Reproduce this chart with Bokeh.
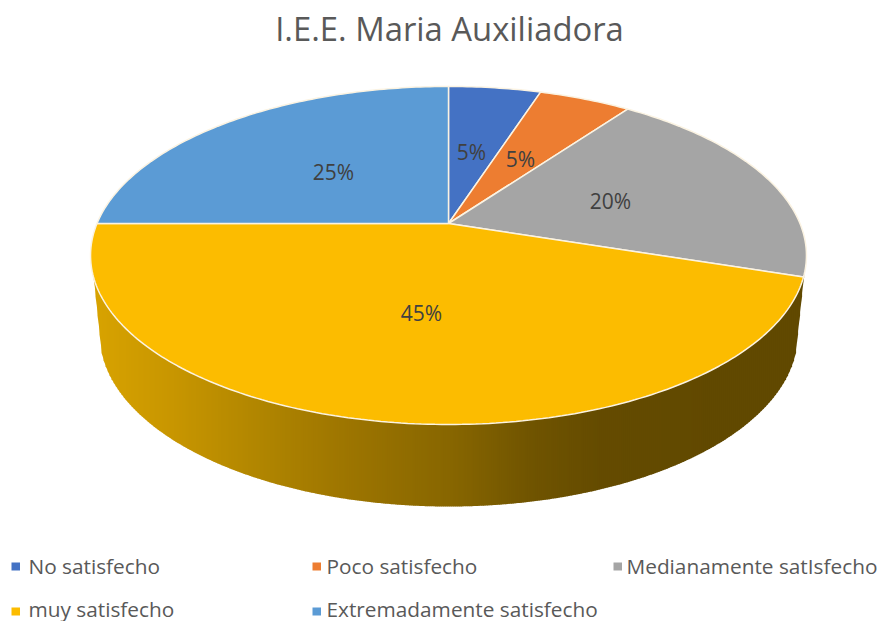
import math
from bokeh.plotting import figure
from bokeh.models import Range1d
from bokeh.core.properties import value
from bokeh.embed import file_html
from bokeh.resources import INLINE

title_text = "I.E.E. Maria Auxiliadora"
categories = ["No satisfecho", "Poco satisfecho", "Medianamente satIsfecho", "muy satisfecho", "Extremadamente satisfecho"]
shares = [5, 5, 20, 45, 25]
colors = ["#4472C4", "#ED7D31", "#A5A5A5", "#FCBC00", "#5B9BD5"]
label_pos = [(471, 151), (520, 158), (610, 200), (421, 312), (333, 171)]
legend_pos = [(11, 566), (312, 566), (613, 566), (11, 611), (312, 611)]
legend_text_x = [28, 326, 626, 28, 326]
legend_text_y = [565, 565, 565, 608, 608]

# gradient of the side wall: (x position, colour)
side_stops = [(91, (216, 163, 0)), (170, (200, 150, 0)), (260, (176, 133, 0)), (340, (158, 118, 0)),
              (450, (135, 102, 0)), (530, (112, 84, 0)), (600, (100, 75, 0)), (720, (97, 73, 0)), (806, (97, 73, 0))]

W, H = 882, 621
p = figure(width=W, height=H, x_range=Range1d(0, W), y_range=Range1d(H, 0),
           output_backend="svg", toolbar_location=None, min_border=0, outline_line_color=None)
p.axis.visible = False
p.grid.visible = False
p.background_fill_color = "white"

AX, AY = 448.0, 223.0   # apex of the pie on screen
A, B, E = 351.5, 163.0, 0.189   # projective map of the disc


def project(angle_deg):
    t = math.radians(angle_deg)
    u, v = math.sin(t), math.cos(t)
    d = 1 + E * v
    return AX + A * u / d, AY - B * v / d


def top_y_lower(x):
    # lower arc of the top ellipse
    cx, cy, rx, ry = 448.5, 255.0, 358.0, 169.0
    k = max(0.0, 1 - ((x - cx) / rx) ** 2)
    return cy + ry * math.sqrt(k)


def bottom_y(x):
    cx, cy, rx, ry = 448.0, 334.0, 349.0, 172.0
    k = max(0.0, 1 - ((x - cx) / rx) ** 2)
    return cy + ry * math.sqrt(k)


def shade(x):
    for (x0, c0), (x1, c1) in zip(side_stops, side_stops[1:]):
        if x0 <= x <= x1:
            f = (x - x0) / (x1 - x0)
            return "#%02x%02x%02x" % tuple(round(a + (b - a) * f) for a, b in zip(c0, c1))
    return "#604800"


LEFT, RIGHT = 99.0, 797.0


def low(q):
    if q < LEFT:
        return 277 + (q - 93) / (LEFT - 93) * (bottom_y(LEFT) - 277)
    if q > RIGHT:
        return 277 + (803 - q) / (803 - RIGHT) * (bottom_y(RIGHT) - 277)
    return bottom_y(q)


# side wall as thin vertical strips
sx, sy, sc = [], [], []
x = 93.0
step = 2.0
while x < 803:
    x2 = min(x + step, 803.0)
    sx.append([x, x2 + 0.6, x2 + 0.6, x])
    sy.append([top_y_lower(x) - 6, top_y_lower(x2) - 6, low(x2), low(x)])
    sc.append(shade(x))
    x = x2
p.patches(sx, sy, fill_color=sc, line_color=None)

# top slices
start = 0.0
total = sum(shares)
xs, ys = [], []
for s in shares:
    end = start + s / total * 360
    n = max(8, int(s * 4))
    pts = [project(start + (end - start) * i / n) for i in range(n + 1)]
    xs.append([AX] + [q[0] for q in pts])
    ys.append([AY] + [q[1] for q in pts])
    start = end
p.patches(xs, ys, fill_color=colors, line_color="#FBF3E2", line_width=1.5)

# labels
p.text([q[0] for q in label_pos], [q[1] for q in label_pos], text=[f"{s}%" for s in shares],
       text_font=value("Open Sans"), text_font_size="21px", text_color="#404040",
       text_align="center", text_baseline="middle")

# title
p.text([449], [28], text=[title_text], text_font=value("Open Sans"), text_font_size="32.8px",
       text_color="#595959", text_align="center", text_baseline="middle")

# legend
p.quad(left=[q[0] for q in legend_pos], right=[q[0] + 8.5 for q in legend_pos],
       top=[q[1] - 4 for q in legend_pos], bottom=[q[1] + 4 for q in legend_pos],
       fill_color=colors, line_color=None)
p.text(legend_text_x, legend_text_y, text=categories,
       text_font=value("Open Sans"), text_font_size="20.8px", text_color="#595959",
       text_align="left", text_baseline="middle")

open("out.html", "w").write(file_html(p, INLINE))
